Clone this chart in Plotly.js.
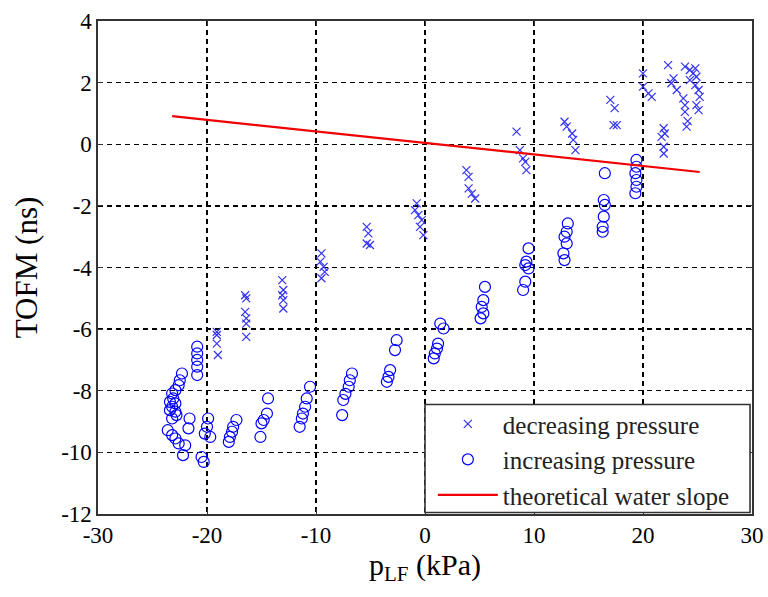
<!DOCTYPE html>
<html>
<head>
<meta charset="utf-8">
<script src="https://cdn.plot.ly/plotly-3.0.1.min.js"></script>
<style>html,body{margin:0;padding:0;background:#fff;}#chart{width:768px;height:597px;}</style>
</head>
<body>
<div id="chart"></div>
<script>
// decreasing pressure (crosses)
const decX = [23.85,24.3,24.8,24.6,24.3,24.9,24.8,25.1,25.2,23.7,23.85,24.9,25.1,23.85,24.1,24.0,
  22.3,22.8,22.6,23.1,
  20.0,20.0,20.5,20.8,
  21.9,22.0,21.7,21.9,21.9,
  17.0,17.4,17.3,17.6,
  12.8,13.0,13.5,13.6,13.8,
  8.4,8.7,9.0,9.2,9.3,
  3.8,4.0,4.0,4.3,4.6,
  -0.76,-0.92,-0.61,-0.3,-0.46,-0.15,
  -5.35,-5.2,-5.35,-5.05,
  -9.5,-9.6,-9.3,-9.2,-9.5,
  -13.1,-13.0,-13.1,-13.0,-13.0,
  -16.5,-16.4,-16.5,-16.4,-16.4,-16.4,
  -19.1,-19.1,-19.1,-19.0];
const decY = [2.52,2.41,2.46,2.30,2.08,2.19,1.92,1.76,1.54,1.49,1.27,1.27,1.11,1.05,0.75,0.57,
  2.57,2.14,1.98,1.76,
  2.30,1.87,1.65,1.54,
  0.52,0.35,0.24,-0.08,-0.30,
  1.44,1.17,0.62,0.62,
  0.73,0.57,0.35,0.14,-0.19,
  0.41,-0.19,-0.46,-0.57,-0.84,
  -0.84,-1.06,-1.43,-1.60,-1.76,
  -1.92,-2.14,-2.30,-2.46,-2.68,-2.95,
  -2.68,-2.89,-3.22,-3.27,
  -3.54,-3.81,-3.98,-4.14,-4.35,
  -4.41,-4.73,-4.90,-5.06,-5.33,
  -4.90,-5.0,-5.44,-5.65,-5.82,-6.25,
  -6.09,-6.19,-6.47,-6.84];

// increasing pressure (circles)
const incX = [19.4,19.4,19.3,19.4,19.4,19.3,
  16.5,16.4,16.5,16.4,16.3,16.3,
  13.1,13.0,12.8,13.0,12.7,12.8,
  9.5,9.3,9.2,9.5,9.2,9.0,
  5.5,5.35,5.2,5.35,5.1,
  1.4,1.7,1.2,1.1,0.9,0.8,
  -2.6,-2.75,-3.2,-3.35,-3.5,
  -6.7,-6.9,-7.0,-7.3,-7.5,-7.6,
  -10.55,-10.85,-11.0,-11.2,-11.3,-11.5,
  -14.4,-14.5,-14.8,-15.0,-15.1,
  -17.3,-17.6,-17.7,-17.9,-18.0,
  -19.9,-20.0,-20.2,-19.7,-20.5,-20.3,
  -20.9,-20.9,-20.9,-20.9,-20.9,
  -21.6,-21.7,
  -23.6,-23.2,-22.9,-22.6,-22.0,-22.2,
  -22.3,-22.5,-22.6,-22.9,-23.2,-23.1,-23.4,-22.9,-23.2,-23.4,-22.9,-22.8,-23.2];
const incY = [-0.51,-0.73,-0.94,-1.16,-1.38,-1.59,
  -0.94,-1.81,-1.97,-2.35,-2.68,-2.84,
  -2.57,-2.84,-3.0,-3.22,-3.54,-3.76,
  -3.38,-3.81,-3.92,-4.03,-4.46,-4.73,
  -4.63,-5.06,-5.28,-5.49,-5.65,
  -5.82,-5.98,-6.47,-6.63,-6.79,-6.95,
  -6.36,-6.68,-7.33,-7.55,-7.71,
  -7.44,-7.66,-7.87,-8.1,-8.3,-8.79,
  -7.87,-8.25,-8.52,-8.74,-8.90,-9.17,
  -8.25,-8.74,-8.95,-9.06,-9.50,
  -8.95,-9.17,-9.33,-9.5,-9.66,
  -8.90,-9.17,-9.39,-9.50,-10.15,-10.31,
  -6.57,-6.79,-7.0,-7.22,-7.49,
  -8.90,-9.22,
  -9.28,-9.44,-9.55,-9.71,-9.77,-10.09,
  -7.44,-7.66,-7.82,-7.98,-8.09,-8.25,-8.36,-8.41,-8.52,-8.63,-8.68,-8.79,-8.90];

// theoretical water slope
const slopeX = [-23.2, 25.2];
const slopeY = [0.91, -0.90];

const xTicks = [-30,-20,-10,0,10,20,30];
const yTicks = [-12,-10,-8,-6,-4,-2,0,2,4];

const serif = "'Times New Roman', 'Liberation Serif', Times, serif";

const traces = [
  {x: decX, y: decY, type: 'scatter', mode: 'markers', name: 'decreasing pressure', legendgroup: 'a',
   marker: {symbol: 'x-thin-open', size: 8, color: 'rgb(50,50,245)', line: {width: 1.2, color: 'rgb(50,50,245)'}}},
  {x: incX, y: incY, type: 'scatter', mode: 'markers', name: 'increasing pressure', legendgroup: 'b',
   marker: {symbol: 'circle-open', size: 11, color: 'rgb(0,0,255)', line: {width: 1.2, color: 'rgb(0,0,255)'}}},
  {x: slopeX, y: slopeY, type: 'scatter', mode: 'lines', name: 'theoretical water slope', legendgroup: 'c',
   line: {color: 'rgb(240,0,0)', width: 2.2}}
];

function axisCommon() {
  return {
    showline: true, linecolor: '#333', linewidth: 1.6, mirror: 'ticks',
    ticks: 'inside', ticklen: 5, tickcolor: '#333',
    showgrid: true, gridcolor: '#000', gridwidth: 1.3, griddash: '5px,4px',
    zeroline: false, tickfont: {family: serif, size: 23, color: '#000'}
  };
}

const layout = {
  width: 768, height: 597,
  margin: {l: 98, r: 16, t: 21, b: 83},
  paper_bgcolor: '#fff', plot_bgcolor: '#fff',
  font: {family: serif},
  showlegend: true,
  xaxis: Object.assign(axisCommon(), {range: [-30, 30], tickvals: xTicks, ticktext: xTicks.map(String),
    title: {text: 'p<sub>LF</sub> (kPa)', font: {family: serif, size: 30, color: '#000'}, standoff: 5}}),
  yaxis: Object.assign(axisCommon(), {range: [-12, 4], tickvals: yTicks, ticktext: yTicks.map(String),
    title: {text: 'TOFM (ns)', font: {family: serif, size: 31, color: '#000'}, standoff: 14}}),
  legend: {x: 0.512, y: 0.229, xanchor: 'left', yanchor: 'top', bgcolor: 'rgba(0,0,0,0)',
    borderwidth: 0, font: {family: serif, size: 25, color: '#222'}, itemwidth: 60, tracegroupgap: 0},
  shapes: [{type: 'rect', xref: 'paper', yref: 'paper', x0: 0.5, x1: 0.997, y0: 0.003, y1: 0.222,
    line: {color: '#333', width: 1.6}, fillcolor: '#fff', layer: 'above'}]
};

Plotly.newPlot('chart', traces, layout, {displayModeBar: false, staticPlot: true});
</script>
</body>
</html>
